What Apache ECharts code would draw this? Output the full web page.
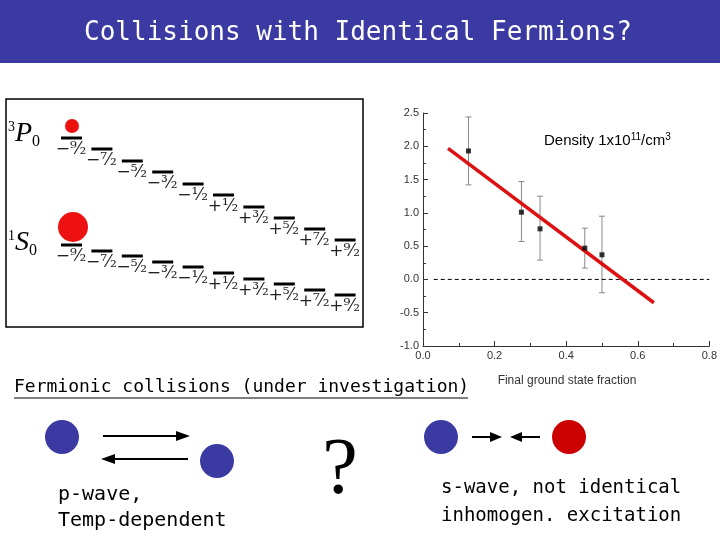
<!DOCTYPE html>
<html><head><meta charset="utf-8">
<script src="https://cdn.jsdelivr.net/npm/echarts@6/dist/echarts.min.js"></script>
<style>html,body{margin:0;padding:0;background:#fff}#c{width:720px;height:540px}</style>
</head><body><div id="c"></div>
<script>
const xs = [0.127, 0.275, 0.327, 0.452, 0.5];
const ys = [1.93, 1.01, 0.76, 0.47, 0.37];
const errLow = [1.42, 0.57, 0.29, 0.17, -0.2];
const errHigh = [2.44, 1.47, 1.25, 0.77, 0.95];
const fitLine = [[0.07, 1.97], [0.645, -0.35]];
const zeroLine = [[0.03, 0], [0.8, 0]];
const xTicks = [0, 0.2, 0.4, 0.6, 0.8];
const levelNums = ['⁹', '⁷', '⁵', '³', '¹', '¹', '³', '⁵', '⁷', '⁹'];
const levelSigns = ['−', '−', '−', '−', '−', '+', '+', '+', '+', '+'];
const upperY = [138, 149, 161, 172, 184, 195, 207, 218, 229, 240];
const lowerY = [245, 251, 256, 262, 267, 273, 279, 284, 290, 295];

const chart = echarts.init(document.getElementById('c'));
const g = [];
const mono = '"DejaVu Sans Mono", monospace';
g.push({type:'rect', shape:{x:0,y:0,width:720,height:63}, style:{fill:'#3a3aa2'}});
g.push({type:'text', x:358, y:33, style:{text:'Collisions with Identical Fermions?', font:'26px '+mono, fill:'#fff', align:'center', verticalAlign:'middle'}});
g.push({type:'rect', shape:{x:6,y:99,width:357,height:228}, style:{fill:'#fff', stroke:'#000', lineWidth:1.5}});
g.push({type:'text', x:8, y:134, style:{text:'{s|3}{b|P}{u|0}', rich:{s:{font:'14px "Liberation Serif"',padding:[0,0,14,0]},b:{font:'italic 28px "Liberation Serif"'},u:{font:'16px "Liberation Serif"',padding:[16,0,0,0]}}, verticalAlign:'middle', fill:'#000'}});
g.push({type:'text', x:8, y:243, style:{text:'{s|1}{b|S}{u|0}', rich:{s:{font:'14px "Liberation Serif"',padding:[0,0,14,0]},b:{font:'italic 28px "Liberation Serif"'},u:{font:'16px "Liberation Serif"',padding:[16,0,0,0]}}, verticalAlign:'middle', fill:'#000'}});
g.push({type:'circle', shape:{cx:72,cy:126,r:7}, style:{fill:'#ee1111'}});
g.push({type:'circle', shape:{cx:73,cy:227,r:15}, style:{fill:'#ee1111'}});
for (let i=0;i<10;i++){
  const x0 = 61 + i*30.4;
  [upperY[i], lowerY[i]].forEach(yy=>{
    g.push({type:'rect', shape:{x:x0,y:yy-1.5,width:21,height:3}, style:{fill:'#000'}});
    g.push({type:'text', x:x0+10, y:yy+3, style:{text:levelSigns[i]+levelNums[i]+'⁄₂', font:'17px "DejaVu Serif"', fill:'#222', align:'center', verticalAlign:'top'}});
  });
}
g.push({type:'text', x:14, y:387, style:{text:'Fermionic collisions (under investigation)', font:'18px '+mono, fill:'#000', verticalAlign:'middle'}});
g.push({type:'line', shape:{x1:14,y1:398,x2:468,y2:398}, style:{stroke:'#000', lineWidth:1}});
g.push({type:'circle', shape:{cx:62,cy:437,r:17}, style:{fill:'#3a3aa2'}});
g.push({type:'circle', shape:{cx:217,cy:461,r:17}, style:{fill:'#3a3aa2'}});
g.push({type:'line', shape:{x1:103,y1:436,x2:186,y2:436}, style:{stroke:'#000', lineWidth:2}});
g.push({type:'polygon', shape:{points:[[190,436],[176,431],[176,441]]}, style:{fill:'#000'}});
g.push({type:'line', shape:{x1:105,y1:459,x2:188,y2:459}, style:{stroke:'#000', lineWidth:2}});
g.push({type:'polygon', shape:{points:[[101,459],[115,454],[115,464]]}, style:{fill:'#000'}});
g.push({type:'text', x:58, y:495, style:{text:'p-wave,', font:'20px '+mono, fill:'#000', verticalAlign:'middle'}});
g.push({type:'text', x:58, y:521, style:{text:'Temp-dependent', font:'20px '+mono, fill:'#000', verticalAlign:'middle'}});
g.push({type:'text', x:340, y:472, style:{text:'?', font:'80px "Liberation Serif"', fill:'#000', align:'center', verticalAlign:'middle'}});
g.push({type:'circle', shape:{cx:441,cy:437,r:17}, style:{fill:'#3a3aa2'}});
g.push({type:'circle', shape:{cx:569,cy:437,r:17}, style:{fill:'#cc0000'}});
g.push({type:'line', shape:{x1:472,y1:437,x2:496,y2:437}, style:{stroke:'#000', lineWidth:2}});
g.push({type:'polygon', shape:{points:[[502,437],[490,432],[490,442]]}, style:{fill:'#000'}});
g.push({type:'line', shape:{x1:516,y1:437,x2:540,y2:437}, style:{stroke:'#000', lineWidth:2}});
g.push({type:'polygon', shape:{points:[[510,437],[522,432],[522,442]]}, style:{fill:'#000'}});
g.push({type:'text', x:441, y:488, style:{text:'s-wave, not identical', font:'19px '+mono, fill:'#000', verticalAlign:'middle'}});
g.push({type:'text', x:441, y:516, style:{text:'inhomogen. excitation', font:'19px '+mono, fill:'#000', verticalAlign:'middle'}});
g.push({type:'text', x:544, y:141, style:{text:'Density 1x10{s|11}/cm{s|3}', rich:{s:{font:'10px "Liberation Sans"',padding:[0,0,8,0]}}, font:'15px "Liberation Sans"', fill:'#000', verticalAlign:'middle'}});
g.push({type:'text', x:567, y:381, style:{text:'Final ground state fraction', font:'12px "Liberation Sans Narrow", "Liberation Sans"', fill:'#333', align:'center', verticalAlign:'middle'}});

chart.setOption({
  animation:false,
  grid:{left:423, top:113, width:287, height:233},
  xAxis:{type:'value', min:0, max:0.8, interval:0.2,
    axisLine:{onZero:false, lineStyle:{color:'#333'}}, axisTick:{inside:true,length:5,lineStyle:{color:'#333'}},
    minorTick:{show:true, splitNumber:2, length:3, lineStyle:{color:'#333'}},
    splitLine:{show:false},
    axisLabel:{fontSize:11, color:'#333', margin:4, formatter:v=>xTicks.includes(+v.toFixed(1))?v.toFixed(1):''}},
  yAxis:{type:'value', min:-1, max:2.5, interval:0.5,
    axisLine:{show:true, onZero:false, lineStyle:{color:'#333'}}, axisTick:{show:true, inside:true,length:5,lineStyle:{color:'#333'}},
    minorTick:{show:true, splitNumber:2, length:3, lineStyle:{color:'#333'}},
    splitLine:{show:false},
    axisLabel:{fontSize:11, color:'#333', margin:4, formatter:v=>v.toFixed(1)}},
  series:[
    {type:'line', data:zeroLine, symbol:'none', lineStyle:{color:'#000', width:1, type:[4,3]}},
    {type:'custom', renderItem:(p,api)=>{
        const x=api.value(0), lo=api.coord([x,api.value(1)]), hi=api.coord([x,api.value(2)]);
        return {type:'group', children:[
          {type:'line', shape:{x1:lo[0],y1:lo[1],x2:hi[0],y2:hi[1]}, style:{stroke:'#888',lineWidth:1}},
          {type:'line', shape:{x1:lo[0]-3,y1:lo[1],x2:lo[0]+3,y2:lo[1]}, style:{stroke:'#888',lineWidth:1}},
          {type:'line', shape:{x1:hi[0]-3,y1:hi[1],x2:hi[0]+3,y2:hi[1]}, style:{stroke:'#888',lineWidth:1}}]};
      }, data: xs.map((x,i)=>[x, errLow[i], errHigh[i]])},
    {type:'line', data:fitLine, symbol:'none', lineStyle:{color:'#dd1111', width:3.5}},
    {type:'scatter', data: xs.map((x,i)=>[x, ys[i]]), symbol:'rect', symbolSize:5, itemStyle:{color:'#000'}, z:5}
  ],
  graphic:g
});
</script></body></html>
